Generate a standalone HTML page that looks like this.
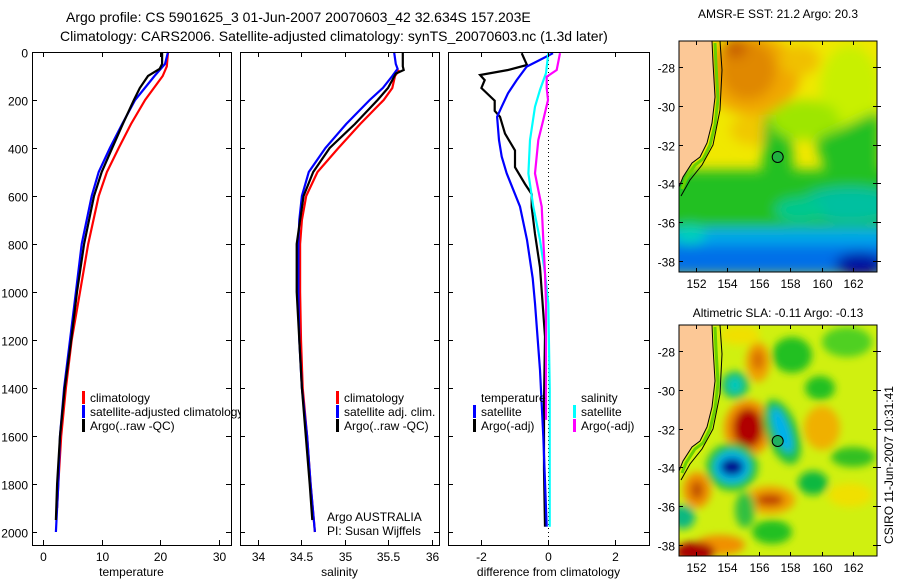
<!DOCTYPE html>
<html><head><meta charset="utf-8">
<style>
html,body{margin:0;padding:0;background:#fff;}
svg{display:block;font-family:"Liberation Sans",sans-serif;}
text{fill:#000;}
</style></head>
<body>
<svg id="fig" width="900" height="580" viewBox="0 0 900 580" xmlns="http://www.w3.org/2000/svg">
<defs>
  <filter id="blur6" x="-30%" y="-30%" width="160%" height="160%"><feGaussianBlur stdDeviation="6"/></filter>
  <filter id="blur4" x="-30%" y="-30%" width="160%" height="160%"><feGaussianBlur stdDeviation="4"/></filter>
  <clipPath id="clipTop"><rect x="679" y="41" width="198" height="231"/></clipPath>
  <clipPath id="clipBot"><rect x="679" y="325" width="198" height="231"/></clipPath>
</defs>
<text x="66" y="22" font-size="14" text-anchor="start">Argo profile: CS 5901625_3 01-Jun-2007 20070603_42 32.634S 157.203E</text>
<text x="60" y="41" font-size="14" text-anchor="start">Climatology: CARS2006. Satellite-adjusted climatology: synTS_20070603.nc (1.3d later)</text>
<g id="panels"></g>

<!-- SST map -->
<g>
<text x="778" y="18" font-size="12" text-anchor="middle">AMSR-E SST: 21.2 Argo: 20.3</text>
<g clip-path="url(#clipTop)">
  <rect x="679" y="41" width="198" height="231" fill="#f0e800"/>
  <g filter="url(#blur6)">
    <ellipse cx="850" cy="90" rx="30" ry="45" fill="#c8f000"/>
    <ellipse cx="752" cy="75" rx="48" ry="40" fill="#f0a800"/>
    <ellipse cx="748" cy="70" rx="28" ry="30" fill="#e08800"/>
    <ellipse cx="735" cy="48" rx="12" ry="10" fill="#c86000"/>
    <ellipse cx="800" cy="60" rx="20" ry="15" fill="#f0c000"/>
    <ellipse cx="755" cy="130" rx="25" ry="15" fill="#f0c800"/>
    <rect x="660" y="170" width="240" height="65" fill="#20c020"/>
    <polygon points="765,115 790,115 795,200 770,220 760,200" fill="#20c020"/>
    <ellipse cx="805" cy="120" rx="35" ry="20" fill="#9ee600"/>
    <polygon points="815,140 880,110 880,190 830,185" fill="#20c020"/>
    <ellipse cx="850" cy="205" rx="50" ry="18" fill="#00c0a0"/>
    <ellipse cx="800" cy="210" rx="25" ry="12" fill="#00c890"/>
    <rect x="660" y="228" width="240" height="22" fill="#00a8e8"/>
    <rect x="660" y="245" width="240" height="30" fill="#0070e8"/>
    <ellipse cx="860" cy="265" rx="25" ry="12" fill="#0010a0"/>
    <ellipse cx="690" cy="235" rx="15" ry="10" fill="#00d0c0"/>
  </g>
  <polygon points="679,41 712,41 713,63 715,97 712,123 707,143 700,157 692,163 683,177 679,187" fill="#fcc896" stroke="#000" stroke-width="1"/>
  <polyline points="712,41 713,63 715,97 712,123 707,143 700,157 692,163 683,177 679,187" fill="none" stroke="#6ad000" stroke-width="3" transform="translate(3,2)"/>
  <polyline points="720,41 722,70 720,110 713,145 702,165 690,180 681,196" fill="none" stroke="#000" stroke-width="1"/>
  <circle cx="777.7" cy="157" r="5.5" fill="#20b040" stroke="#000" stroke-width="1"/>
</g>
<rect x="679" y="41" width="198" height="231" fill="none" stroke="#000" stroke-width="1"/>
<g id="mapTopAxes"></g>
</g>

<!-- SLA map -->
<g>
<text x="778" y="317" font-size="12" text-anchor="middle">Altimetric SLA: -0.11 Argo: -0.13</text>
<g clip-path="url(#clipBot)">
  <rect x="679" y="325" width="198" height="231" fill="#d0f010"/>
  <g filter="url(#blur4)">
    <ellipse cx="740" cy="335" rx="20" ry="10" fill="#f0e000"/>
    <ellipse cx="758" cy="362" rx="12" ry="20" fill="#f0a000"/>
    <ellipse cx="758" cy="360" rx="6" ry="10" fill="#d87000"/>
    <ellipse cx="792" cy="355" rx="20" ry="18" fill="#20c020"/>
    <ellipse cx="847" cy="342" rx="25" ry="15" fill="#50d020"/>
    <ellipse cx="735" cy="385" rx="14" ry="14" fill="#20c060"/>
    <ellipse cx="735" cy="385" rx="7" ry="8" fill="#00c8c0"/>
    <ellipse cx="820" cy="388" rx="15" ry="12" fill="#20c020"/>
    <ellipse cx="748" cy="428" rx="24" ry="28" fill="#f09000"/>
    <ellipse cx="748" cy="428" rx="15" ry="20" fill="#b00000"/>
    <ellipse cx="782" cy="432" rx="16" ry="34" fill="#20c040" transform="rotate(-20 782 432)"/>
    <ellipse cx="782" cy="430" rx="7" ry="24" fill="#00b0f0" transform="rotate(-20 782 430)"/>
    <ellipse cx="822" cy="428" rx="18" ry="22" fill="#f0b000"/>
    <ellipse cx="732" cy="467" rx="26" ry="24" fill="#20c040"/>
    <ellipse cx="732" cy="467" rx="18" ry="16" fill="#00b8f0"/>
    <ellipse cx="732" cy="467" rx="12" ry="9" fill="#000c90"/>
    <ellipse cx="853" cy="457" rx="22" ry="10" fill="#30c020"/>
    <ellipse cx="813" cy="483" rx="15" ry="12" fill="#10b840"/>
    <ellipse cx="697" cy="490" rx="14" ry="18" fill="#f09000"/>
    <ellipse cx="697" cy="490" rx="6" ry="9" fill="#c05000"/>
    <ellipse cx="770" cy="500" rx="25" ry="14" fill="#f0a000"/>
    <ellipse cx="770" cy="500" rx="14" ry="6" fill="#c04000"/>
    <ellipse cx="745" cy="510" rx="10" ry="18" fill="#30c040"/>
    <ellipse cx="850" cy="495" rx="22" ry="12" fill="#f0e000"/>
    <ellipse cx="683" cy="517" rx="12" ry="12" fill="#10b880"/>
    <ellipse cx="772" cy="532" rx="20" ry="12" fill="#20c020"/>
    <ellipse cx="720" cy="545" rx="25" ry="10" fill="#f09000"/>
    <ellipse cx="695" cy="552" rx="20" ry="10" fill="#a80000"/>
  </g>
  <polygon points="679,325 712,325 713,347 715,381 712,407 707,427 700,441 692,447 683,461 679,471" fill="#fcc896" stroke="#000" stroke-width="1"/>
  <polyline points="712,325 713,347 715,381 712,407 707,427 700,441 692,447 683,461 679,471" fill="none" stroke="#6ad000" stroke-width="3" transform="translate(3,2)"/>
  <polyline points="720,325 722,354 720,394 713,429 702,449 690,464 681,480" fill="none" stroke="#000" stroke-width="1"/>
  <circle cx="777.7" cy="441" r="5.5" fill="#20b060" stroke="#000" stroke-width="1"/>
</g>
<rect x="679" y="325" width="198" height="231" fill="none" stroke="#000" stroke-width="1"/>
<g id="mapBotAxes"></g>
</g>
<text transform="translate(893,465) rotate(-90)" font-size="12" text-anchor="middle">CSIRO 11-Jun-2007 10:31:41</text>
</svg>

<script>
// ---- data ----
const depthTicks = [0,200,400,600,800,1000,1200,1400,1600,1800,2000];
const tempTicks = [0,10,20,30];
const salTicks = [34,34.5,35,35.5,36];
const diffTicks = [-2,0,2];

const tempClimDepth = [0,60,100,200,300,400,500,600,800,1000,1200,1400,1600,1800,1900];
const tempClim      = [21.3,21.1,20.4,17.4,15.0,12.9,10.9,9.5,7.7,6.3,4.9,3.9,3.1,2.6,2.4];
const tempSatDepth  = [0,50,100,200,300,400,500,600,800,1000,1200,1400,1600,1800,2000];
const tempSat       = [21.3,20.8,19.0,15.7,13.5,11.4,9.5,8.3,6.6,5.6,4.6,3.6,2.9,2.6,2.2];
const tempArgoDepth = [0,50,70,100,150,200,300,400,500,600,800,1000,1200,1400,1600,1800,1950];
const tempArgo      = [20.3,20.3,19.9,17.9,16.5,15.5,13.6,11.8,10.0,8.7,7.0,5.8,4.8,3.7,2.9,2.4,2.2];

const salClimDepth = [75,100,150,200,300,400,500,600,700,800,1000,1200,1400,1600,1800,2000];
const salClim      = [35.63,35.58,35.55,35.45,35.18,34.93,34.69,34.56,34.51,34.49,34.49,34.50,34.52,34.57,34.61,34.66];
const salSatDepth  = [0,50,70,100,150,200,300,400,500,600,700,800,1000,1200,1400,1600,1800,2000];
const salSat       = [35.57,35.59,35.61,35.55,35.44,35.29,35.02,34.78,34.59,34.51,34.48,34.47,34.47,34.48,34.51,34.57,34.61,34.66];
const salArgoDepth = [0,60,75,90,150,200,300,400,500,600,700,800,1000,1400,1800,1950];
const salArgo      = [35.67,35.67,35.68,35.59,35.50,35.38,35.12,34.83,34.64,34.53,34.49,34.45,34.45,34.51,34.60,34.63];

const dTempArgoDepth = [5,54,75,96,117,150,203,245,270,340,410,480,550,592,647,758,897,1186,1464,1741,1978];
const dTempArgo      = [-0.79,-0.63,-1.2,-2.04,-1.9,-2.0,-1.6,-1.6,-1.44,-1.29,-0.99,-0.99,-0.69,-0.49,-0.49,-0.39,-0.24,-0.09,-0.12,-0.12,-0.09];
const dTempSatDepth  = [5,33,61,117,172,228,270,367,436,506,644,783,943,1047,1325,1603,1978];
const dTempSat       = [0.15,-0.24,-0.64,-0.94,-1.2,-1.39,-1.53,-1.47,-1.39,-1.24,-0.84,-0.63,-0.46,-0.39,-0.24,-0.14,-0.04];
const dSalSatDepth   = [5,88,158,228,367,506,644,783,922,1047,1400,1978];
const dSalSat        = [0.01,-0.06,-0.24,-0.39,-0.54,-0.59,-0.44,-0.24,-0.09,0.01,0.05,0.05];
const dSalArgoDepth  = [5,75,103,150,200,283,367,506,575,644,783,922,1047,1325,1533];
const dSalArgo       = [0.36,0.26,-0.04,-0.04,0.0,-0.14,-0.29,-0.39,-0.29,-0.19,-0.14,-0.09,-0.06,-0.06,-0.06];

const lonTicks = [152,154,156,158,160,162];
const latTicks = [-28,-30,-32,-34,-36,-38];

// ---- drawing ----
const NS='http://www.w3.org/2000/svg';
const panels=document.getElementById('panels');
function mk(tag,attrs,parent){const e=document.createElementNS(NS,tag);for(const k in attrs)e.setAttribute(k,attrs[k]);(parent||panels).appendChild(e);return e;}
const TOP=52,BOT=545;
function yD(d){return 52+d*0.24;}

function panel(name,x0,x1){
  const g=mk('g',{});
  
  
  const r=mk('rect',{x:x0,y:TOP,width:x1-x0,height:BOT-TOP,fill:'#fff',stroke:'none'},g);
  
  
  return g;
}
function frame(g,name,x0,x1,xs,xt,xlab,title,ylabels){
  mk('rect',{x:x0+0.5,y:TOP+0.5,width:x1-x0,height:BOT-TOP,fill:'none',stroke:'#000','stroke-width':1},g);
  depthTicks.forEach(d=>{
    const y=Math.round(yD(d))+0.5;
    mk('line',{x1:x0,y1:y,x2:x0+5,y2:y,stroke:'#000'},g);
    mk('line',{x1:x1-5,y1:y,x2:x1,y2:y,stroke:'#000'},g);
    if(ylabels){const t=mk('text',{x:x0-4,y:y+5,'font-size':12,'text-anchor':'end'},g);t.textContent=d;
      
      }
  });
  xt.forEach((v,i)=>{
    const x=Math.round(xs(v))+0.5;
    mk('line',{x1:x,y1:TOP,x2:x,y2:TOP+5,stroke:'#000'},g);
    mk('line',{x1:x,y1:BOT-5,x2:x,y2:BOT,stroke:'#000'},g);
    const t=mk('text',{x:x,y:BOT+16,'font-size':12,'text-anchor':'middle'},g);t.textContent=xlab[i];
    
    
  });
  const tt=mk('text',{x:(x0+x1)/2,y:576,'font-size':12,'text-anchor':'middle'},g);tt.textContent=title;
  
  
}
function line(g,name,xs,vals,depths,color){
  const pts=vals.map((v,i)=>xs(v).toFixed(1)+','+yD(depths[i]).toFixed(1)).join(' ');
  const p=mk('polyline',{points:pts,fill:'none',stroke:color,'stroke-width':2.2,'stroke-linejoin':'miter'},g);
  
  
}
function legend(g,x,y,items){
  items.forEach((it,i)=>{
    const yy=y+i*14;
    if(it.c) mk('rect',{x:x,y:yy-11,width:3,height:13,fill:it.c},g);
    const t=mk('text',{x:x+8,y:yy,'font-size':12},g);t.textContent=it.t;
    
    
  });
}

// panel 1 temperature
const xT=v=>43+v*(219-43)/30;
const g1=panel('temperature-panel',32,231);
line(g1,'temp-climatology-line',xT,tempClim,tempClimDepth,'#ff0000');
line(g1,'temp-satellite-line',xT,tempSat,tempSatDepth,'#0000ff');
line(g1,'temp-argo-line',xT,tempArgo,tempArgoDepth,'#000000');
const lg1=mk('g',{},g1);


legend(lg1,82,402,[{c:'#ff0000',t:'climatology'},{c:'#0000ff',t:'satellite-adjusted climatology'},{c:'#000',t:'Argo(..raw -QC)'}]);
frame(g1,'temperature-panel',32,231,xT,tempTicks,['0','10','20','30'],'temperature',true);

// panel 2 salinity
const xS=v=>257.5+(v-34)*87;
const g2=panel('salinity-panel',240,439);
line(g2,'sal-climatology-line',xS,salClim,salClimDepth,'#ff0000');
line(g2,'sal-satellite-line',xS,salSat,salSatDepth,'#0000ff');
line(g2,'sal-argo-line',xS,salArgo,salArgoDepth,'#000000');
const lg2=mk('g',{},g2);


legend(lg2,336,402,[{c:'#ff0000',t:'climatology'},{c:'#0000ff',t:'satellite adj. clim.'},{c:'#000',t:'Argo(..raw -QC)'}]);
const ai=mk('text',{x:327,y:521,'font-size':12},g2);ai.textContent='Argo AUSTRALIA';


const pi=mk('text',{x:327,y:535,'font-size':12},g2);pi.textContent='PI: Susan Wijffels';


frame(g2,'salinity-panel',240,439,xS,salTicks,['34','34.5','35','35.5','36'],'salinity',false);

// panel 3 difference
const xD=v=>548+v*33.3;
const g3=panel('difference-panel',448,649);
mk('line',{x1:xD(0)+0.5,y1:TOP,x2:xD(0)+0.5,y2:BOT,stroke:'#000','stroke-dasharray':'1,3'},g3);
line(g3,'diff-temp-argo-line',xD,dTempArgo,dTempArgoDepth,'#000000');
line(g3,'diff-temp-satellite-line',xD,dTempSat,dTempSatDepth,'#0000ff');
line(g3,'diff-sal-satellite-line',xD,dSalSat,dSalSatDepth,'#00ffff');
line(g3,'diff-sal-argo-line',xD,dSalArgo,dSalArgoDepth,'#ff00ff');
const lg3=mk('g',{},g3);


legend(lg3,473,402,[{c:null,t:'temperature'},{c:'#0000ff',t:'satellite'},{c:'#000',t:'Argo(-adj)'}]);
legend(lg3,573,402,[{c:null,t:'salinity'},{c:'#00ffff',t:'satellite'},{c:'#ff00ff',t:'Argo(-adj)'}]);
frame(g3,'difference-panel',448,649,xD,diffTicks,['-2','0','2'],'difference from climatology',false);

// map axes
function mapAxes(id,top,lat28){
  const g=document.getElementById(id);
  lonTicks.forEach(l=>{
    const x=Math.round(696+(l-152)*15.7)+0.5;
    mk('line',{x1:x,y1:top+231-4,x2:x,y2:top+231,stroke:'#000'},g);
    mk('line',{x1:x,y1:top,x2:x,y2:top+4,stroke:'#000'},g);
    const t=mk('text',{x:x,y:top+231+16,'font-size':12,'text-anchor':'middle'},g);t.textContent=l;
    
    
  });
  latTicks.forEach(l=>{
    const y=Math.round(lat28+(-l-28)*19.4)+0.5;
    mk('line',{x1:679,y1:y,x2:683,y2:y,stroke:'#000'},g);
    mk('line',{x1:873,y1:y,x2:881,y2:y,stroke:'#000'},g);
    const t=mk('text',{x:675,y:y+5,'font-size':12,'text-anchor':'end'},g);t.textContent=l;
    
    
  });
}
mapAxes('mapTopAxes',41,67);
mapAxes('mapBotAxes',325,351);
</script>
</body></html>
